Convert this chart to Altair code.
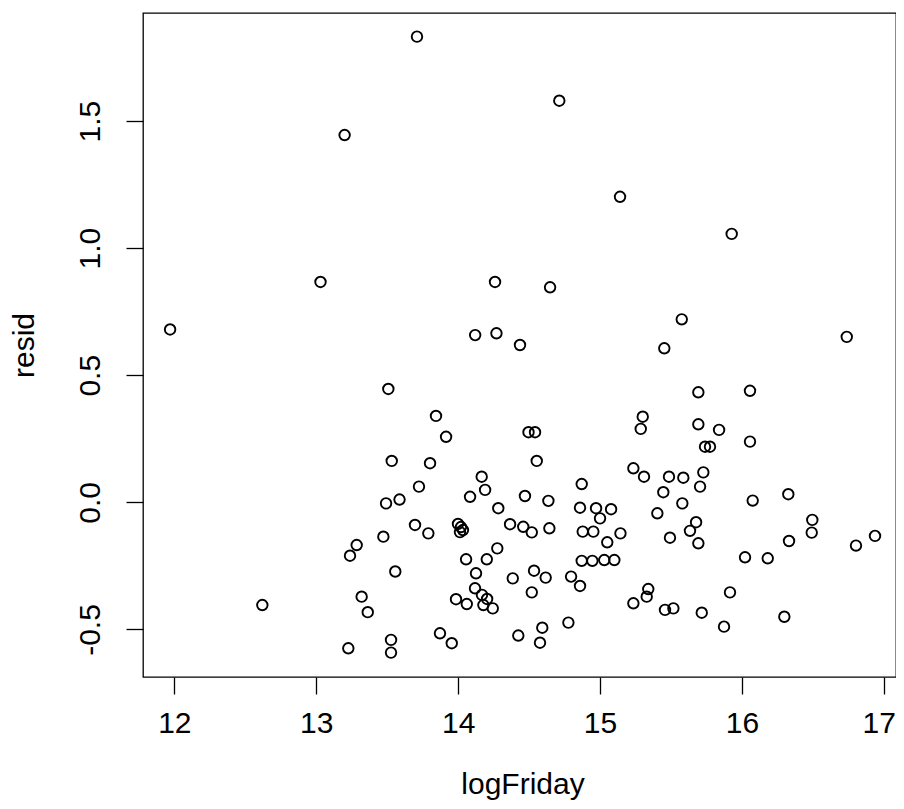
import altair as alt
import pandas as pd

# Values
log_friday = [
    13.710, 13.200, 13.030, 14.260, 11.970, 14.120, 14.270, 14.713, 15.141, 15.928,
    14.648, 15.576, 16.739, 13.508, 13.532, 13.492, 13.587, 13.473, 13.285, 13.238,
    13.557, 12.620, 13.320, 13.363, 13.226, 13.527, 13.527, 14.436, 13.844, 13.915,
    14.496, 14.542, 13.802, 14.554, 14.166, 14.190, 13.724, 14.084, 14.471, 14.636,
    14.871, 14.283, 13.696, 13.790, 13.999, 14.020, 14.034, 14.013, 14.366, 14.459,
    14.519, 14.643, 14.859, 14.972, 15.078, 15.000, 14.878, 14.953, 15.144, 15.051,
    14.056, 14.202, 14.276, 14.871, 14.946, 15.030, 15.101, 14.126, 14.535, 14.617,
    14.796, 14.859, 14.385, 14.119, 14.519, 14.168, 14.204, 14.178, 14.244, 13.985,
    14.061, 15.235, 14.777, 14.593, 14.577, 14.424, 13.872, 13.955, 15.453, 15.693,
    16.057, 15.301, 15.287, 15.693, 15.839, 15.740, 15.775, 16.057, 15.235, 15.310,
    15.486, 15.587, 15.728, 15.705, 15.446, 15.580, 16.076, 16.327, 15.404, 15.677,
    15.634, 15.693, 15.493, 16.022, 16.182, 16.332, 16.496, 16.492, 16.804, 16.938,
    15.340, 15.329, 15.458, 15.517, 15.717, 15.916, 15.874, 16.299,
]
resid = [
    1.832, 1.445, 0.867, 0.867, 0.680, 0.658, 0.665, 1.580, 1.202, 1.056,
    0.846, 0.720, 0.651, 0.446, 0.163, -0.004, 0.011, -0.135, -0.168, -0.210,
    -0.272, -0.404, -0.371, -0.432, -0.574, -0.541, -0.591, 0.619, 0.340, 0.258,
    0.276, 0.276, 0.154, 0.163, 0.101, 0.049, 0.062, 0.022, 0.025, 0.006,
    0.072, -0.023, -0.089, -0.122, -0.085, -0.097, -0.109, -0.117, -0.086, -0.096,
    -0.118, -0.102, -0.021, -0.023, -0.027, -0.063, -0.115, -0.115, -0.122, -0.157,
    -0.224, -0.224, -0.181, -0.230, -0.230, -0.227, -0.227, -0.279, -0.269, -0.296,
    -0.292, -0.329, -0.299, -0.338, -0.354, -0.364, -0.380, -0.404, -0.417, -0.381,
    -0.400, -0.397, -0.473, -0.493, -0.552, -0.524, -0.515, -0.554, 0.606, 0.433,
    0.439, 0.337, 0.289, 0.307, 0.285, 0.219, 0.219, 0.239, 0.134, 0.101,
    0.101, 0.097, 0.118, 0.062, 0.040, -0.004, 0.007, 0.032, -0.043, -0.078,
    -0.112, -0.161, -0.139, -0.216, -0.220, -0.152, -0.069, -0.119, -0.170, -0.132,
    -0.341, -0.371, -0.423, -0.417, -0.434, -0.354, -0.489, -0.450,
]

x_ticks = [12, 13, 14, 15, 16, 17]
y_ticks = [-0.5, 0.0, 0.5, 1.0, 1.5]
x_domain = [11.779, 17.086]
y_domain = [-0.687, 1.925]

df = pd.DataFrame({"logFriday": log_friday, "resid": resid})

FONT = "Liberation Sans"
W, H = 753, 664
X_TITLE_CENTER = 379.5

chart = (
    alt.Chart(df)
    .mark_point(shape="circle", filled=False, size=110, strokeWidth=1.9,
                color="black", opacity=1)
    .encode(
        x=alt.X(
            "logFriday:Q",
            scale=alt.Scale(domain=x_domain, nice=False, zero=False),
            axis=alt.Axis(
                values=x_ticks, format="d", grid=False, domain=False,
                tickSize=17, tickWidth=1.3, tickColor="black",
                labelFont=FONT, labelFontSize=30, labelColor="black",
                labelBaseline="alphabetic", labelAlign="center",
                labelPadding=38, labelFlush=False, labelOverlap=False,
                labelOffset={"condition": {"test": "datum.value == 17", "value": -5}, "value": 0},
                title="logFriday", titleFont=FONT, titleFontSize=30,
                titleFontWeight="normal", titleColor="black",
                titleX=X_TITLE_CENTER, titleY=116, titleAlign="center",
                titleBaseline="alphabetic",
            ),
        ),
        y=alt.Y(
            "resid:Q",
            scale=alt.Scale(domain=y_domain, nice=False, zero=False),
            axis=alt.Axis(
                values=y_ticks, grid=False, domain=False,
                labelExpr="datum.value < 0 ? '-' + format(-datum.value, '.1f') : format(datum.value, '.1f')",
                tickSize=17, tickWidth=1.3, tickColor="black",
                labelFont=FONT, labelFontSize=30, labelColor="black",
                labelAngle=270, labelAlign="center", labelBaseline="alphabetic",
                labelPadding=27, labelFlush=False, labelOverlap=False,
                title="resid", titleFont=FONT, titleFontSize=30,
                titleFontWeight="normal", titleColor="black",
                titleAngle=270, titleX=-110, titleY=H / 2,
                titleAlign="center", titleBaseline="alphabetic",
            ),
        ),
    )
    .properties(
        width=W, height=H,
        autosize=alt.AutoSizeParams(type="none"),
        padding={"left": 135, "top": 5, "right": 0, "bottom": 124},
        background="white",
    )
    .configure_view(stroke="black", strokeWidth=1.3)
)

chart.save("out.html", embed_options={"renderer": "svg", "actions": False})
